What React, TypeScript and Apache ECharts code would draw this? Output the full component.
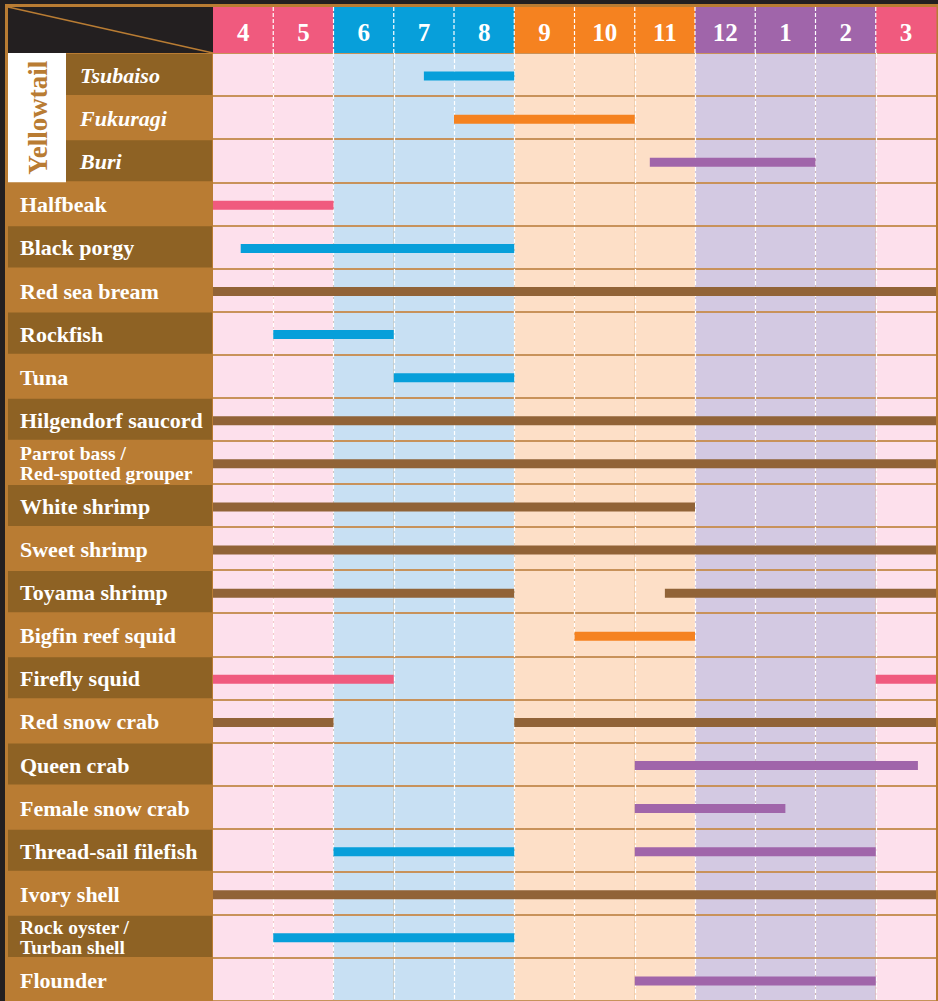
import React, { useEffect, useRef } from "react";
import * as echarts from "echarts";

// ---- data ----
const months = ["4", "5", "6", "7", "8", "9", "10", "11", "12", "1", "2", "3"];
const monthSeason = ["spring", "spring", "summer", "summer", "summer", "autumn", "autumn", "autumn", "winter", "winter", "winter", "spring"];

const groupName = "Yellowtail";
const groupSize = 3;

const fishNames = [
  "Tsubaiso",
  "Fukuragi",
  "Buri",
  "Halfbeak",
  "Black porgy",
  "Red sea bream",
  "Rockfish",
  "Tuna",
  "Hilgendorf saucord",
  "Parrot bass /\nRed-spotted grouper",
  "White shrimp",
  "Sweet shrimp",
  "Toyama shrimp",
  "Bigfin reef squid",
  "Firefly squid",
  "Red snow crab",
  "Queen crab",
  "Female snow crab",
  "Thread-sail filefish",
  "Ivory shell",
  "Rock oyster /\nTurban shell",
  "Flounder",
];

// [row index, start (months from April 1), end, season colour key]
const seasonSegments: [number, number, number, string][] = [
  [0, 3.5, 5, "summer"],
  [1, 4, 7, "autumn"],
  [2, 7.25, 10, "winter"],
  [3, 0, 2, "spring"],
  [4, 0.46, 5, "summer"],
  [5, 0, 12, "year"],
  [6, 1, 3, "summer"],
  [7, 3, 5, "summer"],
  [8, 0, 12, "year"],
  [9, 0, 12, "year"],
  [10, 0, 8, "year"],
  [11, 0, 12, "year"],
  [12, 0, 5, "year"],
  [12, 7.5, 12, "year"],
  [13, 6, 8, "autumn"],
  [14, 0, 3, "spring"],
  [14, 11, 12, "spring"],
  [15, 0, 2, "year"],
  [15, 5, 12, "year"],
  [16, 7, 11.7, "winter"],
  [17, 7, 9.5, "winter"],
  [18, 2, 5, "summer"],
  [18, 7, 11, "winter"],
  [19, 0, 12, "year"],
  [20, 1, 5, "summer"],
  [21, 7, 11, "winter"],
];

// ---- styles ----
const headerColor: Record<string, string> = {
  spring: "#f05a7e",
  summer: "#079fda",
  autumn: "#f58220",
  winter: "#a065aa",
};
const bandColor: Record<string, string> = {
  spring: "#fde0ec",
  summer: "#c8e0f3",
  autumn: "#fddfc7",
  winter: "#d3c9e2",
};
const barColor: Record<string, string> = {
  spring: "#f05a7e",
  summer: "#079fda",
  autumn: "#f58220",
  winter: "#a065aa",
  year: "#916337",
};
const seasonKeys = ["spring", "summer", "autumn", "winter", "year"];

const DARK = "#231f20";
const LIGHT_BROWN = "#b97c33";
const DARK_BROWN = "#8e6224";
const FONT = '"Liberation Serif", "Times New Roman", serif';
const HEADER_H = 46;
const COL_LEFT = 8;
const SUB_LEFT = 66;

export default function App() {
  const ref = useRef<HTMLDivElement>(null);

  useEffect(() => {
    if (!ref.current) return;
    const chart = echarts.init(ref.current, undefined, { renderer: "svg" });

    const option: any = {
      animation: false,
      backgroundColor: LIGHT_BROWN,
      grid: { left: 213, right: 2, top: 53, bottom: 0 },
      xAxis: {
        type: "value",
        min: 0,
        max: 12,
        interval: 1,
        position: "top",
        z: 3,
        axisLine: { show: false },
        axisTick: { show: false },
        axisLabel: { show: false },
        splitLine: {
          show: true,
          showMinLine: false,
          showMaxLine: false,
          lineStyle: { color: "#ffffff", type: [4, 2], width: 1.2 },
        },
      },
      yAxis: {
        type: "category",
        inverse: true,
        data: fishNames,
        z: 3,
        axisLine: { show: false },
        axisTick: { show: false },
        axisLabel: { show: false },
        splitLine: {
          show: true,
          interval: 0,
          lineStyle: { color: "#c8925a", width: 1.8 },
        },
      },
      graphic: [
        { type: "rect", z: 10, shape: { x: 0, y: 0, width: 938, height: 4 }, style: { fill: DARK } },
        { type: "rect", z: 10, shape: { x: 0, y: 0, width: 5, height: 1001 }, style: { fill: DARK } },
        { type: "rect", z: 10, shape: { x: 8, y: 7, width: 205, height: HEADER_H }, style: { fill: DARK } },
        {
          type: "line",
          z: 11,
          shape: { x1: 8, y1: 7, x2: 213, y2: 53 },
          style: { stroke: LIGHT_BROWN, lineWidth: 1.5 },
        },
      ],
      series: [
        // season background bands
        {
          type: "custom",
          z: 1,
          silent: true,
          data: months.map((_, i) => [i, i + 1]),
          encode: { x: [0, 1] },
          renderItem: (params: any, api: any) => {
            const i = api.value(0);
            const cs = params.coordSys;
            const x0 = api.coord([i, 0])[0];
            const x1 = api.coord([i + 1, 0])[0];
            return {
              type: "rect",
              shape: { x: x0, y: cs.y, width: x1 - x0, height: cs.height },
              style: { fill: bandColor[monthSeason[i]] },
            };
          },
        },
        // month header
        {
          type: "custom",
          z: 6,
          silent: true,
          data: months.map((_, i) => [i, i + 1]),
          encode: { x: [0, 1] },
          renderItem: (params: any, api: any) => {
            const i = api.value(0);
            const cs = params.coordSys;
            const x0 = api.coord([i, 0])[0];
            const x1 = api.coord([i + 1, 0])[0];
            const top = cs.y - HEADER_H;
            const children: any[] = [
              {
                type: "rect",
                shape: { x: x0, y: top, width: x1 - x0 + 0.5, height: HEADER_H },
                style: { fill: headerColor[monthSeason[i]] },
              },
              {
                type: "text",
                style: {
                  text: months[i],
                  x: (x0 + x1) / 2,
                  y: top + HEADER_H / 2 + 2,
                  align: "center",
                  verticalAlign: "middle",
                  fill: "#ffffff",
                  fontFamily: FONT,
                  fontWeight: "bold",
                  fontSize: 25,
                },
              },
            ];
            if (i > 0) {
              children.push({
                type: "line",
                shape: { x1: x0, y1: top, x2: x0, y2: cs.y },
                style: { stroke: "#ffffff", lineWidth: 1.2, lineDash: [4, 2] },
              });
            }
            return { type: "group", children };
          },
        },
        // left label column
        {
          type: "custom",
          z: 6,
          silent: true,
          data: fishNames.map((_, i) => [0, i]),
          encode: { x: 0, y: 1 },
          renderItem: (params: any, api: any) => {
            const row = api.value(1);
            const cs = params.coordSys;
            const cy = api.coord([0, row])[1];
            const h = api.size([0, 1])[1];
            const top = cy - h / 2;
            const inGroup = row < groupSize;
            const left = inGroup ? SUB_LEFT : COL_LEFT;
            const children: any[] = [];
            if (row % 2 === 0) {
              children.push({
                type: "rect",
                shape: { x: left, y: top + 1, width: cs.x - 1 - left, height: h - 2 },
                style: { fill: DARK_BROWN },
              });
            }
            const name = fishNames[row];
            const twoLine = name.indexOf("\n") >= 0;
            children.push({
              type: "text",
              style: {
                text: name,
                x: inGroup ? 80 : 20,
                y: cy + 1,
                align: "left",
                verticalAlign: "middle",
                fill: "#ffffff",
                fontFamily: FONT,
                fontWeight: "bold",
                fontStyle: inGroup ? "italic" : "normal",
                fontSize: twoLine ? 19.5 : 22,
                lineHeight: twoLine ? 20 : 24,
              },
            });
            if (row === 0) {
              const groupH = h * groupSize;
              children.push({
                type: "rect",
                shape: { x: COL_LEFT, y: top, width: SUB_LEFT - COL_LEFT, height: groupH },
                style: { fill: "#ffffff" },
              });
              children.push({
                type: "text",
                x: (COL_LEFT + SUB_LEFT) / 2 + 1,
                y: top + groupH / 2,
                rotation: Math.PI / 2,
                style: {
                  text: groupName,
                  x: 0,
                  y: 0,
                  align: "center",
                  verticalAlign: "middle",
                  fill: LIGHT_BROWN,
                  fontFamily: FONT,
                  fontWeight: "bold",
                  fontSize: 27,
                },
              });
            }
            return { type: "group", children };
          },
        },
        // season bars
        {
          type: "custom",
          z: 5,
          silent: true,
          data: seasonSegments.map((s) => [s[1], s[2], s[0], seasonKeys.indexOf(s[3])]),
          encode: { x: [0, 1], y: 2 },
          renderItem: (params: any, api: any) => {
            const p0 = api.coord([api.value(0), api.value(2)]);
            const p1 = api.coord([api.value(1), api.value(2)]);
            const key = seasonKeys[api.value(3)];
            return {
              type: "rect",
              shape: { x: p0[0], y: p0[1] - 3, width: p1[0] - p0[0], height: 9 },
              style: { fill: barColor[key] },
            };
          },
        },
      ],
    };

    chart.setOption(option);
    return () => chart.dispose();
  }, []);

  return (
    <div
      ref={ref}
      style={{ position: "fixed", left: 0, top: 0, width: 938, height: 1001 }}
    />
  );
}
